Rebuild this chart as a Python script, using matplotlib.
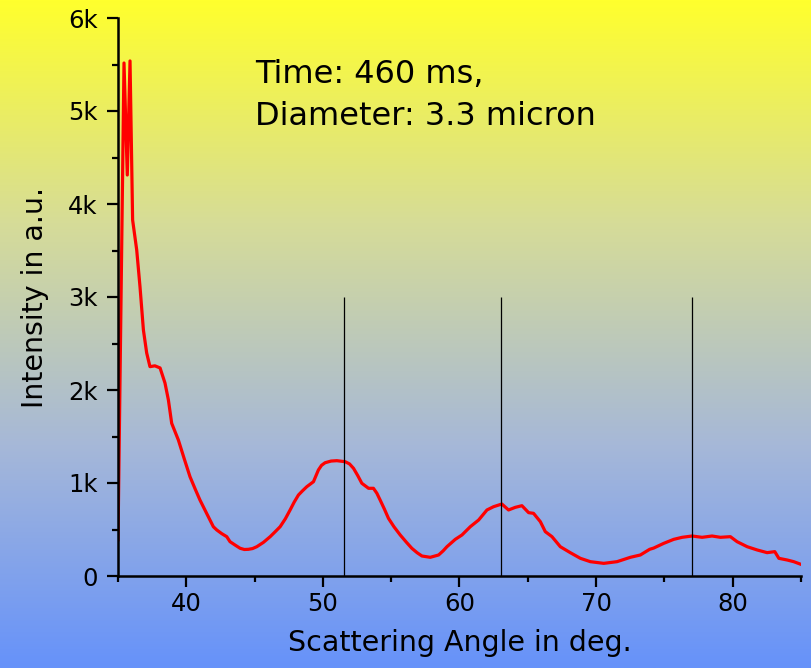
import numpy as np
import matplotlib.pyplot as plt
from matplotlib.colors import LinearSegmentedColormap
from matplotlib.ticker import MultipleLocator, FuncFormatter

plt.rcParams['font.family'] = ['DejaVu Sans']

# scattered intensity vs. angle
angle = [35.0, 35.44, 35.68, 35.88, 36.07, 36.37, 36.61, 36.86, 37.1, 37.34,
         37.7, 38.08, 38.44, 38.69, 38.93, 39.42, 39.85, 40.27, 40.65, 41.0,
         41.5, 41.98, 42.23, 42.6, 42.96, 43.2, 43.6, 43.94, 44.25, 44.55,
         44.85, 45.16, 45.65, 46.14, 46.5, 46.87, 47.25, 47.6, 47.9, 48.21,
         48.5, 48.82, 49.31, 49.67, 49.9, 50.16, 50.6, 51.02, 51.63, 51.95,
         52.24, 52.55, 52.85, 53.34, 53.7, 53.95, 54.19, 54.5, 54.8, 55.2,
         55.66, 56.1, 56.51, 56.9, 57.25, 57.86, 58.47, 58.8, 59.08, 59.69,
         60.18, 60.79, 61.4, 62.01, 62.49, 63.1, 63.59, 64.08, 64.57, 65.06,
         65.42, 65.92, 66.28, 66.77, 67.38, 68.11, 68.85, 69.58, 70.56, 71.53,
         72.51, 73.24, 73.92, 74.21, 74.95, 75.68, 76.3, 77.03, 77.76, 78.49,
         79.1, 79.83, 80.32, 81.06, 81.79, 82.52, 83.08, 83.38, 83.99, 84.47,
         85.0]
intensity = [390, 5516, 4312, 5538, 3828, 3505, 3111, 2645, 2398, 2251,
             2260, 2237, 2075, 1892, 1642, 1462, 1260, 1068, 935, 817,
             670, 530, 495, 455, 423, 369, 330, 298, 285, 287,
             295, 315, 362, 423, 475, 530, 615, 710, 795, 871,
             915, 960, 1014, 1140, 1190, 1218, 1236, 1240, 1229, 1205,
             1158, 1080, 997, 943, 943, 890, 817, 720, 620, 530,
             441, 365, 298, 250, 215, 201, 226, 270, 315, 394,
             441, 530, 602, 710, 745, 774, 710, 738, 756, 681,
             674, 584, 477, 423, 315, 251, 190, 154, 136, 154,
             201, 226, 287, 300, 351, 394, 416, 430, 416, 430,
             416, 423, 369, 315, 280, 251, 262, 190, 172, 154,
             125]

# marker lines
marker_angles = [51.56, 63.06, 77.05]
marker_height = 3000

fig = plt.figure(figsize=(8.12, 6.68), dpi=100)

# vertical yellow-to-blue background
bg = fig.add_axes([0, 0, 1, 1], zorder=-1)
grad = LinearSegmentedColormap.from_list(
    'bg', ['#FFFF2D', '#D6DC98', '#A6B8D8', '#6692FA'])
bg.imshow(np.linspace(0, 1, 256).reshape(-1, 1), aspect='auto', cmap=grad,
          extent=[0, 1, 0, 1])
bg.set_axis_off()

ax = fig.add_axes([118 / 812, 92 / 668, 683 / 812, 558 / 668])
ax.patch.set_visible(False)

ax.plot(angle, intensity, color='#FF0000', linewidth=2.3)
ax.vlines(marker_angles, 0, marker_height, color='black', linewidth=0.9)

ax.set_xlim(35, 85)
ax.set_ylim(0, 6000)
ax.xaxis.set_major_locator(MultipleLocator(10))
ax.xaxis.set_minor_locator(MultipleLocator(5))
ax.yaxis.set_major_locator(MultipleLocator(1000))
ax.yaxis.set_minor_locator(MultipleLocator(500))
ax.yaxis.set_major_formatter(
    FuncFormatter(lambda v, _: '0' if v == 0 else f'{v / 1000:.0f}k'))

for side in ('top', 'right'):
    ax.spines[side].set_visible(False)
for side in ('left', 'bottom'):
    ax.spines[side].set_linewidth(1.8)
ax.tick_params(which='major', length=7.7, width=1.6, labelsize=17.5)
ax.tick_params(which='minor', length=4.3, width=1.6)
ax.tick_params(axis='x', which='major', pad=4)
ax.tick_params(axis='y', which='major', pad=7)

ax.set_xlabel('Scattering Angle in deg.', fontsize=20.5, labelpad=9)
ax.set_ylabel('Intensity in a.u.', fontsize=20.5, labelpad=14)

ax.text(45.04, 5298, 'Time: 460 ms,', fontsize=23, va='baseline', ha='left')
ax.text(45.04, 4849, 'Diameter: 3.3 micron', fontsize=23, va='baseline', ha='left')

fig.savefig('out.png', dpi=100)
